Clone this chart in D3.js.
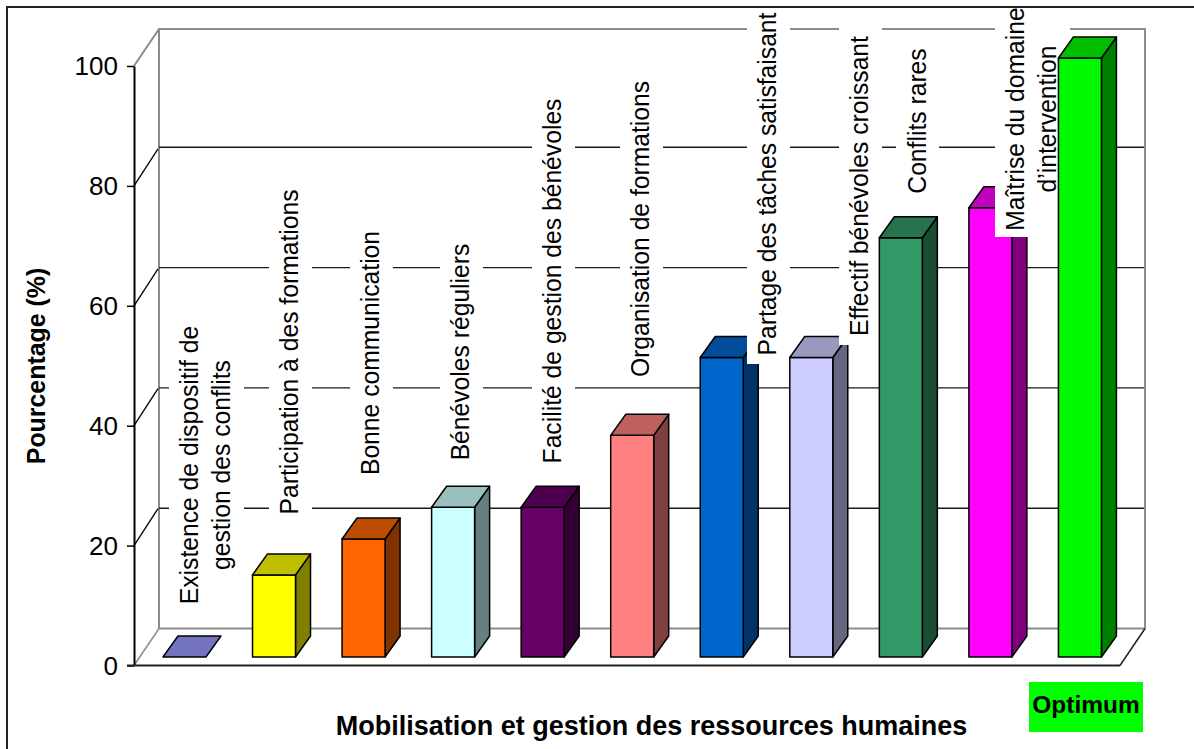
<!DOCTYPE html>
<html lang="fr">
<head>
<meta charset="utf-8">
<script src="https://cdn.jsdelivr.net/npm/d3@7"></script>
<style>
html,body{margin:0;padding:0;background:#fff}
svg{display:block}
text{font-family:"Liberation Sans",Arial,sans-serif;fill:#000}
</style>
</head>
<body>
<svg id="chart" width="1194" height="749"></svg>
<script>
// Data
const categories = ["c1","c2","c3","c4","c5","c6","c7","c8","c9","c10","c11"];
const labelLines = [
  ["Existence de dispositif de","gestion des conflits"],
  ["Participation à des formations"],
  ["Bonne communication"],
  ["Bénévoles réguliers"],
  ["Facilité de gestion des bénévoles"],
  ["Organisation de formations"],
  ["Partage des tâches satisfaisant"],
  ["Effectif bénévoles croissant"],
  ["Conflits rares"],
  ["Maîtrise du domaine","d’intervention"]
];
const values = [0,13.7,19.7,25,25,37,50,50,70,75,100];
const barColors = ["#9999FF","#FFFF00","#FF6600","#CCFFFF","#660066","#FF8080","#0066CC","#CCCCFF","#339966","#FF00FF","#00FF00"];
const yTicks = [0,20,40,60,80,100];
const yTitle = "Pourcentage (%)";
const xTitle = "Mobilisation et gestion des ressources humaines";
const optimumLabel = "Optimum";

// Layout (label placement, white boxes behind labels)
const labelBaseX = [197.5,297.5,378.5,468.5,560.5,648.5,775.5,867.5,925.5,1023.5];
const labelMidY  = [465,352,353,352,281,229,184,186,121,119];
const labelStep = 32.5;
const labelBox = [
  [169,244,320,610],[269,312,185,520],[350,393,225,480],[440,483,238,465],
  [532,575,95,468],[620,663,77,382],[747,790,8,364],[839,882,27,345],
  [896,939,42,198],[995,1070,8,237]
];
const depth = {wallX:25, wallY:-37, barX:15, barY:-21};
const labelPx = 26.4, labelSqueeze = 0.935, tickPx = 26, titlePx = 24.9, xTitlePx = 27, tagPx = 24.5;

const svg = d3.select("#chart");
const defs = svg.append("defs");
const pat = defs.append("pattern").attr("id","dots").attr("width",2).attr("height",2).attr("patternUnits","userSpaceOnUse");
pat.append("rect").attr("width",2).attr("height",2).attr("fill","#00FF00");
pat.append("rect").attr("width",1).attr("height",1).attr("fill","#00E800");

// Scales
const y = d3.scaleLinear().domain([0,100]).range([665.5,66]);
const wallY = d3.scaleLinear().domain([0,100]).range([628.5,27]);
const barY = d3.scaleLinear().domain([0,100]).range([657,58]);
const x = d3.scaleBand().domain(categories).range([134,1119]);
const barW = 43, barShift = 5.7;
const left = c => x(c)+x.bandwidth()/2-barW/2+barShift;
const wallL = 159, wallR = 1145, axisX = 134, floorR = 1120;

// Walls and floor
const gray = "#8c8c8c";
const wall = svg.append("g");
wall.append("path")
  .attr("d",`M${axisX},${y(100)}L${wallL},29H${wallR}V${wallY(0)}H${wallL}V29`)
  .attr("fill","none").attr("stroke",gray).attr("stroke-width",2);
wall.append("line").attr("x1",axisX).attr("y1",y(0)).attr("x2",wallL).attr("y2",wallY(0))
  .attr("stroke",gray).attr("stroke-width",1.5);
wall.append("line").attr("x1",floorR).attr("y1",y(0)).attr("x2",wallR).attr("y2",wallY(0))
  .attr("stroke","#222").attr("stroke-width",1.5);

// Gridlines with side wall diagonals
const gridTicks = yTicks.filter(t=>t>0&&t<100);
wall.selectAll("line.grid").data(gridTicks).join("line").attr("class","grid")
  .attr("x1",wallL).attr("x2",wallR-1).attr("y1",d=>wallY(d)).attr("y2",d=>wallY(d))
  .attr("stroke","#1a1a1a").attr("stroke-width",1.4);
wall.selectAll("line.diag").data(gridTicks).join("line").attr("class","diag")
  .attr("x1",axisX).attr("x2",wallL-1).attr("y1",d=>y(d)).attr("y2",d=>y(d)+depth.wallY)
  .attr("stroke","#000").attr("stroke-width",1.3);

// Bars, each followed by its own label box, so the next bar overlaps that box
function drawBar(g,c,i){
  const v = values[i], L = left(c), R = L+barW, T = barY(v), B = barY(0);
  const col = d3.rgb(barColors[i]);
  const dark = k => d3.rgb(col.r*k,col.g*k,col.b*k).formatHex();
  const bar = g.append("g").attr("stroke","#000").attr("stroke-width",1.5).attr("stroke-linejoin","round");
  if(v>0){
    bar.append("path").attr("fill",dark(.5))
      .attr("d",`M${R},${B}L${R+depth.barX},${B+depth.barY}V${T+depth.barY}L${R},${T}Z`);
    bar.append("rect").attr("x",L).attr("y",T).attr("width",barW).attr("height",B-T)
      .attr("fill",i===10?"url(#dots)":col.formatHex());
  }
  bar.append("path").attr("fill",dark(.75))
    .attr("d",`M${L},${T}L${L+depth.barX},${T+depth.barY}H${R+depth.barX}L${R},${T}Z`);
}
const barsG = svg.append("g");
categories.forEach((c,i)=>{
  drawBar(barsG,c,i);
  const b = labelBox[i];
  if(b) barsG.append("rect").attr("x",b[0]).attr("width",b[1]-b[0]).attr("y",b[2]).attr("height",b[3]-b[2]).attr("fill","#fff");
});

// Floor front edge and axis
const yAxis = svg.append("g").attr("transform",`translate(${axisX},0)`)
  .call(d3.axisLeft(y).tickValues(yTicks).tickSize(7).tickPadding(9).tickSizeOuter(0));
yAxis.select(".domain").attr("stroke","#000").attr("stroke-width",2);
yAxis.selectAll(".tick line").attr("stroke","#000").attr("stroke-width",1.5);
yAxis.selectAll(".tick text").attr("font-size",tickPx).attr("font-family",'"Liberation Sans",Arial,sans-serif').attr("dy","0.34em");
svg.append("line").attr("x1",axisX-7).attr("x2",floorR).attr("y1",y(0)).attr("y2",y(0))
  .attr("stroke","#222").attr("stroke-width",2);

// Category labels
labelLines.forEach((lines,i)=>{
  lines.forEach((t,j)=>{
    svg.append("text")
      .attr("transform",`translate(${labelBaseX[i]+j*labelStep},${labelMidY[i]}) rotate(-90) scale(${labelSqueeze},1)`)
      .attr("text-anchor","middle").attr("font-size",labelPx).text(t);
  });
});

// Titles
svg.append("text").attr("transform","translate(45,366) rotate(-90)")
  .attr("text-anchor","middle").attr("font-size",titlePx).attr("font-weight","bold").text(yTitle);
svg.append("text").attr("x",651.5).attr("y",735)
  .attr("text-anchor","middle").attr("font-size",xTitlePx).attr("font-weight","bold").text(xTitle);

// Optimum tag
svg.append("rect").attr("x",1029).attr("y",682).attr("width",114).attr("height",50).attr("fill","#00FF00");
svg.append("text").attr("x",1086).attr("y",713).attr("text-anchor","middle")
  .attr("font-size",tagPx).attr("font-weight","bold").text(optimumLabel);

// Outer frame
svg.append("path").attr("d","M7,749V7H1194").attr("fill","none").attr("stroke","#222").attr("stroke-width",2);
</script>
</body>
</html>
